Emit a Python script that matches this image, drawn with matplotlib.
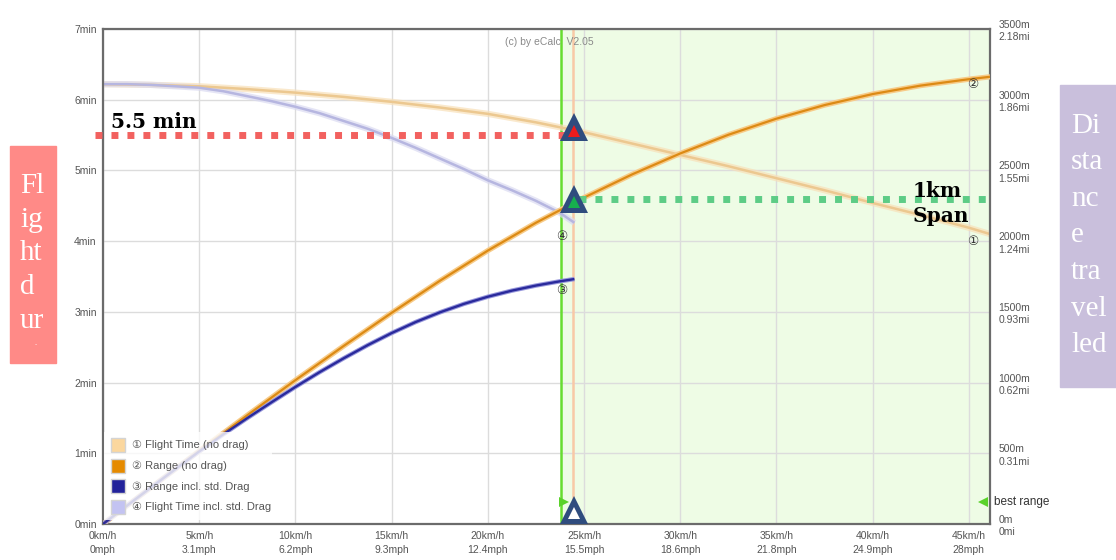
import matplotlib
matplotlib.use("Agg")
import matplotlib.pyplot as plt
from matplotlib.patches import Rectangle
from matplotlib.transforms import ScaledTranslation

# ---------------- data ----------------
# speeds in km/h
speed_nodrag = [0, 2.5, 5, 7.5, 10, 12.5, 15, 17.5, 20, 22.5, 25, 27.5, 30,
                32.5, 35, 37.5, 40, 42.5, 45, 46.1]
# (1) flight time without drag, minutes
flight_time_nodrag = [6.22, 6.21, 6.19, 6.15, 6.10, 6.04, 5.97, 5.89, 5.80, 5.68,
                      5.54, 5.38, 5.22, 5.06, 4.89, 4.72, 4.54, 4.37, 4.19, 4.10]
# (2) range without drag, metres
range_nodrag = [0, 259, 516, 769, 1017, 1258, 1493, 1719, 1933, 2130, 2308, 2472,
                2620, 2752, 2866, 2962, 3040, 3100, 3145, 3162]

speed_drag = [0, 1.25, 2.5, 3.75, 5, 6.25, 7.5, 8.75, 10, 11.25, 12.5, 13.75, 15,
              16.25, 17.5, 18.75, 20, 21.25, 22.5, 23.75, 24.5]
# (4) flight time incl. std. drag, minutes
flight_time_drag = [6.22, 6.22, 6.21, 6.19, 6.17, 6.12, 6.05, 5.98, 5.90, 5.81,
                    5.70, 5.59, 5.46, 5.32, 5.17, 5.02, 4.86, 4.72, 4.57, 4.40, 4.26]
# (3) range incl. std. drag, metres
range_drag = [0, 130, 259, 387, 513, 634, 749, 860, 969, 1073, 1171, 1264, 1350,
              1428, 1496, 1556, 1607, 1650, 1686, 1716, 1732]

kmh_ticks = [0, 5, 10, 15, 20, 25, 30, 35, 40, 45]
mph_labels = ["0mph", "3.1mph", "6.2mph", "9.3mph", "12.4mph", "15.5mph",
              "18.6mph", "21.8mph", "24.9mph", "28mph"]
min_ticks = [0, 1, 2, 3, 4, 5, 6, 7]
m_ticks = [0, 500, 1000, 1500, 2000, 2500, 3000, 3500]
mi_labels = ["0mi", "0.31mi", "0.62mi", "0.93mi", "1.24mi", "1.55mi", "1.86mi", "2.18mi"]

legend_labels = ["① Flight Time (no drag)", "② Range (no drag)",
                 "③ Range incl. std. Drag", "④ Flight Time incl. std. Drag"]
legend_colors = ["#fbd79e", "#e58a00", "#22229a", "#c3c3f2"]

best_range_kmh = 23.8      # start of the green "best range" zone
cruise_kmh = 24.45         # selected speed marker line
target_time_min = 5.5      # red reference line
span_time_min = 4.6        # green reference line (left-axis units)
x_max = 46.1

# ---------------- figure ----------------
plt.rcParams["font.family"] = ["Liberation Sans", "DejaVu Sans"]

W, H = 1116, 560
fig = plt.figure(figsize=(W / 100, H / 100), dpi=100)
fig.patch.set_facecolor("white")

L, R, T, B = 103, 990, 29, 524
ax = fig.add_axes([L / W, 1 - B / H, (R - L) / W, (B - T) / H])
ax2 = ax.twinx()

# background zone and grid
ax.axvspan(best_range_kmh, x_max, color="#eefce5", zorder=0, lw=0)
ax.set_axisbelow(True)
ax.grid(True, color="#dcdcdc", lw=1)

# ticks
ax.set_xticks(kmh_ticks)
ax.set_xticklabels([f"{k}km/h\n{m}" for k, m in zip(kmh_ticks, mph_labels)])
ax.set_yticks(min_ticks)
ax.set_yticklabels([f"{t}min" for t in min_ticks])
ax2.set_yticks(m_ticks)
ax2.set_yticklabels([f"{m}m\n{mi}" for m, mi in zip(m_ticks, mi_labels)])

ax.tick_params(axis="x", length=0, pad=5, labelsize=7.5, labelcolor="#555555")
ax.tick_params(axis="y", length=0, pad=4.5, labelsize=7.5, labelcolor="#555555")
ax2.tick_params(axis="y", length=0, pad=6, labelsize=7.5, labelcolor="#555555")
for lbl in ax.get_xticklabels():
    lbl.set_linespacing(1.45)
for lbl in ax2.get_yticklabels():
    lbl.set_linespacing(1.3)

for sp in ax.spines.values():
    sp.set_color("#6b6b6b")
    sp.set_linewidth(1.6)
for sp in ax2.spines.values():
    sp.set_visible(False)

# vertical speed markers
ax.axvline(best_range_kmh, color="#66dd2e", lw=1.8, zorder=1.6)
ax.axvline(cruise_kmh, color="#f8c9a6", lw=1.8, zorder=1.6)

# flight time curves (left axis)
line_kw = dict(solid_capstyle="butt", solid_joinstyle="round")
ax.plot(speed_nodrag, flight_time_nodrag, color="#f8e0b8", lw=4.5, alpha=0.7,
        zorder=2, **line_kw)
ax.plot(speed_nodrag, flight_time_nodrag, color="#ecc890", lw=1.8, zorder=2.1, **line_kw)
ax.plot(speed_drag, flight_time_drag, color="#dadaf2", lw=4.5, alpha=0.7,
        zorder=2, **line_kw)
ax.plot(speed_drag, flight_time_drag, color="#b6b6e0", lw=1.8, zorder=2.1, **line_kw)

# range curves (right axis)
ax2.plot(speed_nodrag, range_nodrag, color="#f7cb88", lw=3.8, zorder=2, **line_kw)
ax2.plot(speed_nodrag, range_nodrag, color="#dc8a14", lw=1.6, zorder=2.1, **line_kw)
ax2.plot(speed_drag, range_drag, color="#9898dc", lw=3.2, zorder=2, **line_kw)
ax2.plot(speed_drag, range_drag, color="#2a2a9c", lw=1.7, zorder=2.1, **line_kw)

# curve numbers
num_kw = dict(ha="center", va="center", fontsize=9, color="#333333",
              family=["DejaVu Sans"], transform=ax.transData, zorder=4)
ax2.text(45.2, 6.22, "②", **num_kw)
ax2.text(45.2, 4.00, "①", **num_kw)
ax2.text(23.85, 4.07, "④", **num_kw)
ax2.text(23.85, 3.30, "③", **num_kw)

# watermark
ax2.text(0.453, 0.974, "(c) by eCalc  V2.05", transform=ax.transAxes,
         fontsize=7.5, color="#8a8a8a", va="center", ha="left", zorder=4)

# legend box
def px_ax(x, y):
    return (x - L) / (R - L), (B - y) / (B - T)

bx, by = px_ax(104, 520)
ax2.add_patch(Rectangle((bx, by), (272 - 104) / (R - L), (520 - 432) / (B - T),
                        transform=ax.transAxes, facecolor="white", alpha=0.8,
                        lw=0, zorder=5))
for i, (lab, col) in enumerate(zip(legend_labels, legend_colors)):
    yc = 445 + 20.7 * i
    rx, ry = px_ax(111, yc + 7)
    ax2.add_patch(Rectangle((rx, ry), 14 / (R - L), 14 / (B - T),
                            transform=ax.transAxes, facecolor=col,
                            edgecolor="#d4d4d4", lw=1, zorder=6))
    tx, ty = px_ax(132, yc)
    ax2.text(tx, ty, lab, transform=ax.transAxes, fontsize=8, color="#555555",
             va="center", ha="left", zorder=6)

# reference dotted lines
dot = (0, (1.0, 1.3))
ax2.plot([-0.42, 24.0], [target_time_min, target_time_min], transform=ax.transData,
         color="#f2615f", lw=5, ls=dot, dash_capstyle="butt", clip_on=False, zorder=7)
ax2.plot([24.75, x_max], [span_time_min, span_time_min], transform=ax.transData,
         color="#5dcc86", lw=5, ls=dot, dash_capstyle="butt", clip_on=False, zorder=7)

# triangle badges
def badge(x, y, inner):
    ax2.plot([x], [y], marker="^", ms=19.5, color="#2f4c7e", mew=0,
             transform=ax.transData, clip_on=False, zorder=8)
    tr = ax.transData + ScaledTranslation(0, -2.6 / 72, fig.dpi_scale_trans)
    ax2.plot([x], [y], marker="^", ms=8.5, color=inner, mew=0,
             transform=tr, clip_on=False, zorder=9)

badge(24.5, 5.61, "#ee1c1c")
badge(24.5, 4.60, "#17b04e")
badge(24.5, 0.20, "white")

# best range indicators
ax2.plot([best_range_kmh + 0.15], [0.31], marker=">", ms=7, color="#5ad22a", mew=0,
         transform=ax.transData, clip_on=False, zorder=8)
ax2.plot([45.75], [0.31], marker="<", ms=7, color="#5ad22a", mew=0,
         transform=ax.transData, clip_on=False, zorder=8)
fig.text(994 / W, 1 - 502 / H, "best range", fontsize=8.5, color="#333333",
         ha="left", va="center")

# annotation labels
ann_kw = dict(transform=ax.transData, fontsize=14.5, color="black",
              family=["DejaVu Serif"], weight="bold", ha="left",
              va="baseline", zorder=9)
ax2.text(0.42, 5.60, "5.5 min", **ann_kw)
ax2.text(42.1, 4.625, "1km", **ann_kw)
ax2.text(42.1, 4.27, "Span", **ann_kw)

# side captions
fig.patches.append(Rectangle((10 / W, 1 - 363 / H), 46 / W, 217 / H,
                             transform=fig.transFigure, color="#ff8a87", zorder=0))
for i, s in enumerate(["Fl", "ig", "ht", "d", "ur"]):
    fig.text(20 / W, 1 - (193 + 33.7 * i) / H, s, fontsize=21, color="white",
             family=["Liberation Serif"], ha="left", va="baseline")
fig.text(36 / W, 1 - 345 / H, ".", fontsize=6, color="white",
         family=["Liberation Serif"], ha="center", va="baseline")

fig.patches.append(Rectangle((1060 / W, 1 - 387 / H), 56 / W, 302 / H,
                             transform=fig.transFigure, color="#c9bfdc", zorder=0))
for i, s in enumerate(["Di", "sta", "nc", "e", "tra", "vel", "led"]):
    fig.text(1071 / W, 1 - (133 + 36.5 * i) / H, s, fontsize=21, color="white",
             family=["Liberation Serif"], ha="left", va="baseline")

ax.set_xlim(0, x_max)
ax.set_ylim(0, 7)
ax2.set_ylim(0, 3500)

fig.savefig("out.png", dpi=100)
